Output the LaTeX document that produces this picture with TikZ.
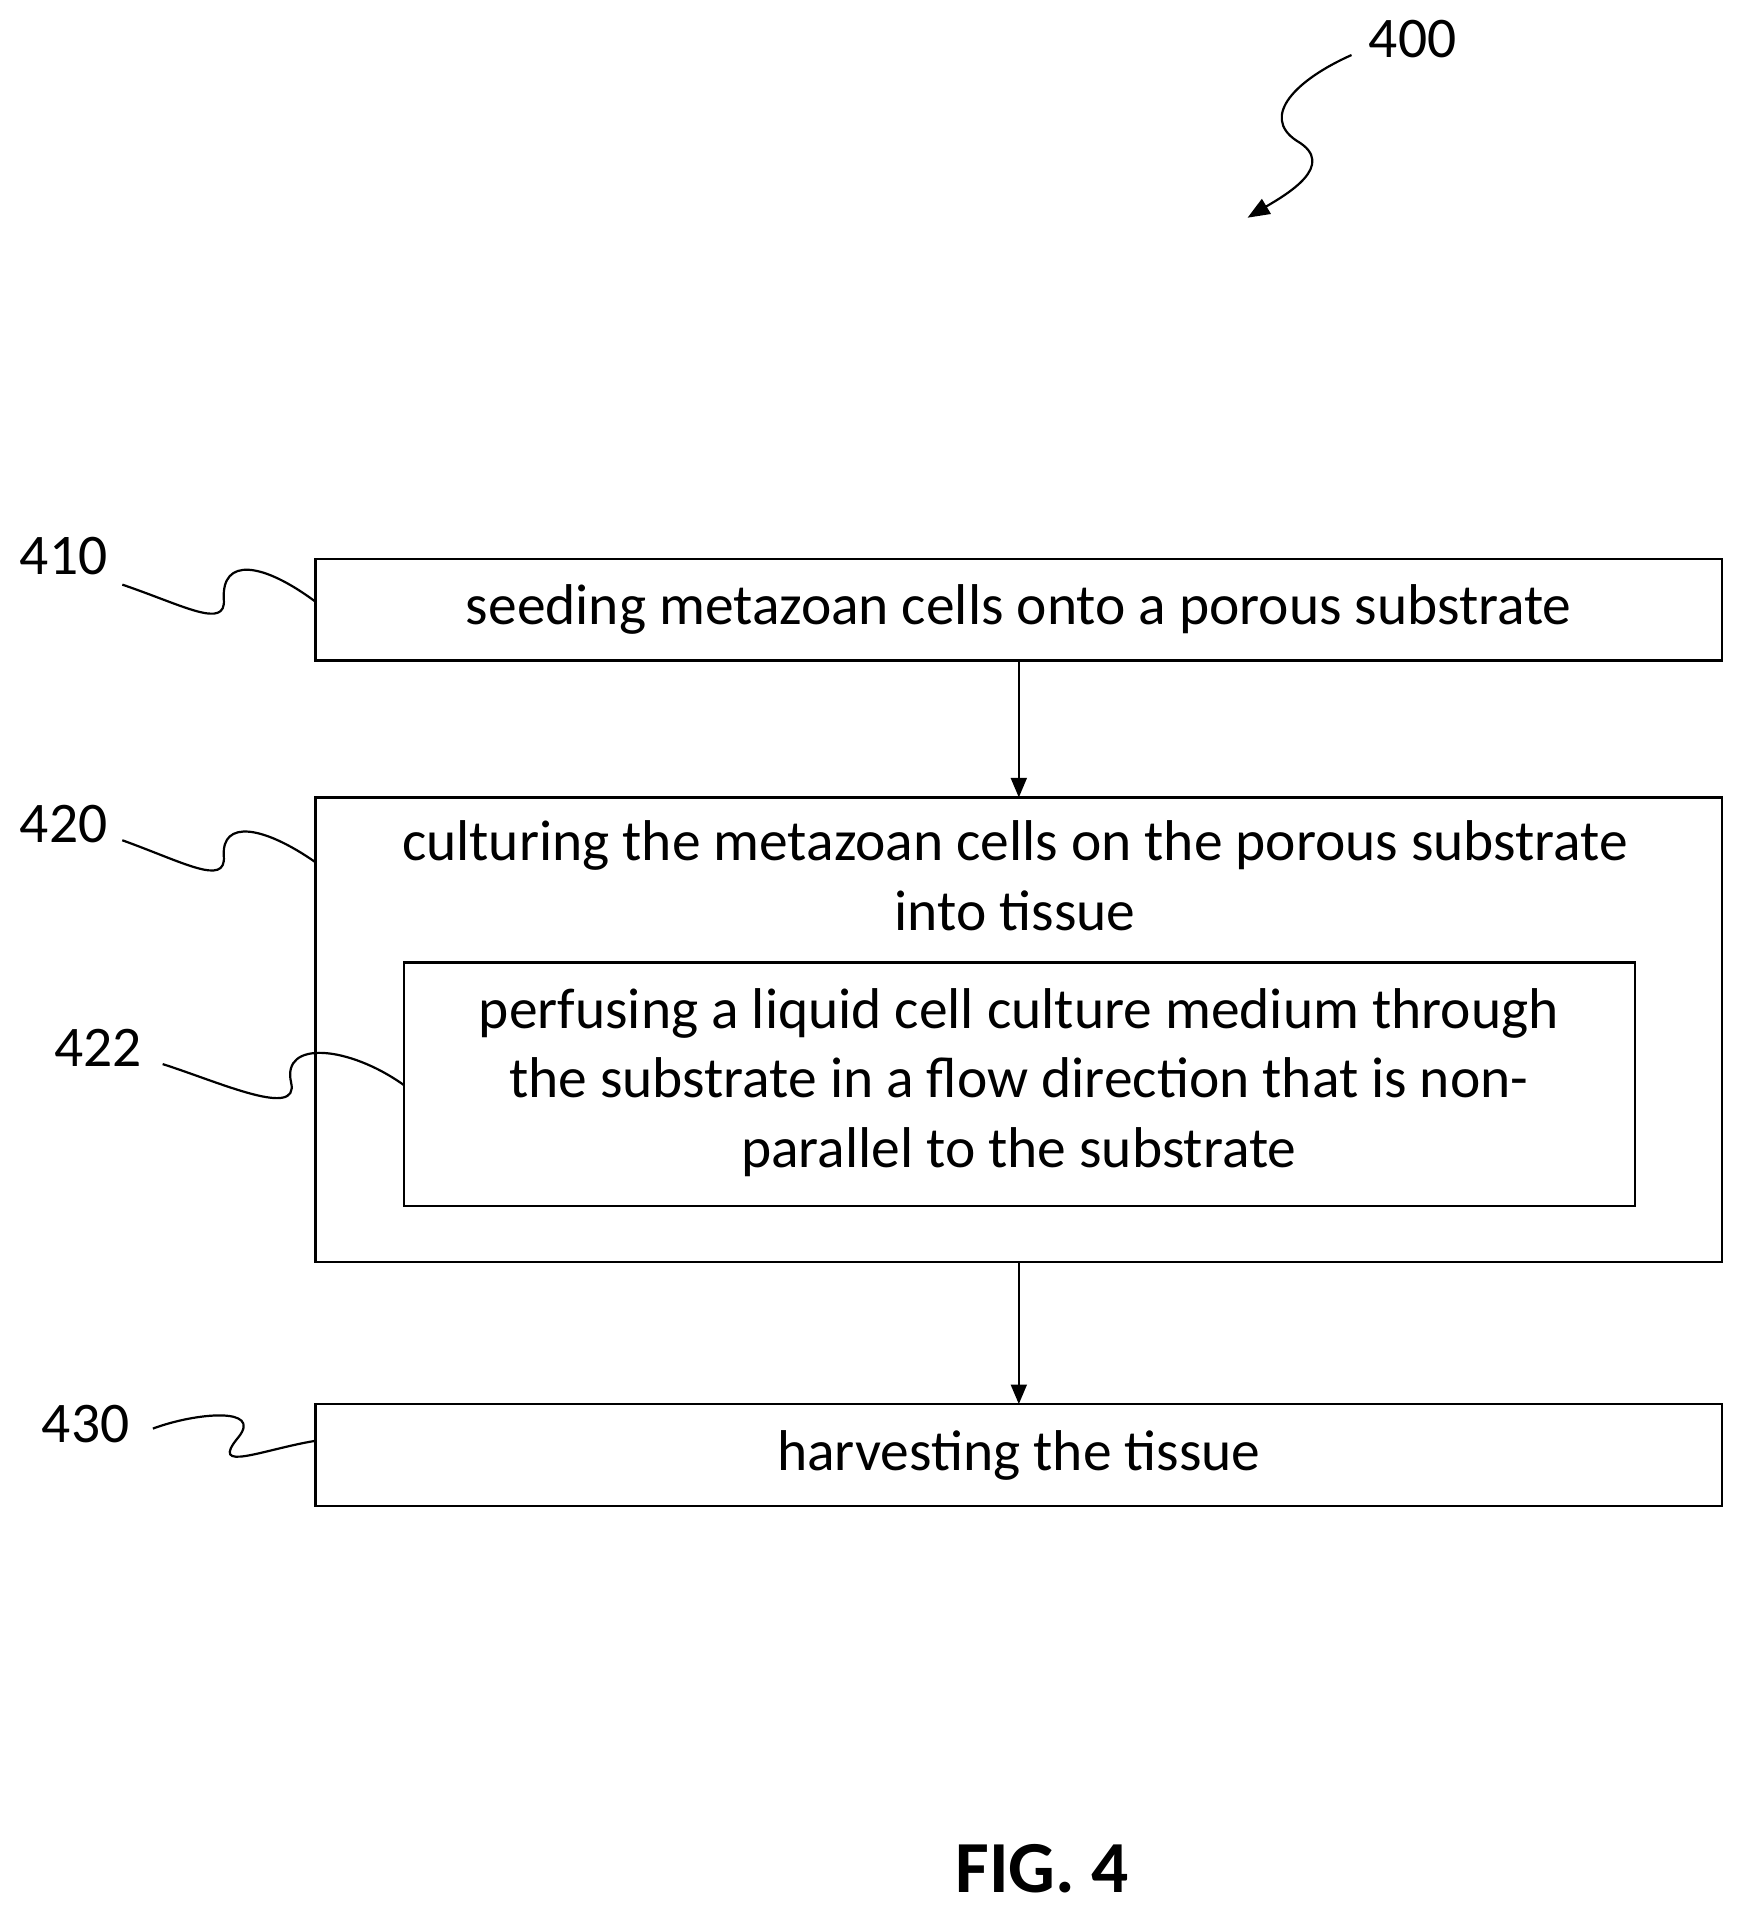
\documentclass[tikz,border=0pt]{standalone}
\usepackage{fontspec}
\setmainfont{Carlito}
\usetikzlibrary{arrows.meta}
\begin{document}
\begin{tikzpicture}[x=1pt,y=-1pt,
  box/.style={draw,line width=1.8pt,inner sep=0pt},
  txt/.style={font=\fontsize{47}{57}\selectfont,align=center},
  lbl/.style={font=\fontsize{47}{50}\selectfont},
  lead/.style={line width=1.8pt},
  arr/.style={line width=1.8pt,-{Triangle[length=16pt,width=13pt]}}]
\useasboundingbox (0,0) rectangle (1420,1560);
\draw[box] (258,457) rectangle (1408,540);
\draw[box] (258,652) rectangle (1408,1032);
\draw[box] (330,787) rectangle (1337,986);
\draw[box] (258,1148) rectangle (1408,1231);
\coordinate (b1t) at (833,540); \coordinate (b2t) at (833,652);
\coordinate (b2b) at (833,1032); \coordinate (b3t) at (833,1148);
\node[txt] (t1) at (833,498) {seeding metazoan cells onto a porous substrate};
\node[txt] (t2) at (830,716) {culturing the metazoan cells on the porous substrate\\into tissue};
\node[txt] (t3) at (833,885) {perfusing a liquid cell culture medium through\\the substrate in a flow direction that is non-\\parallel to the substrate};
\node[txt] (t4) at (833,1190) {harvesting the tissue};
\draw[arr] (b1t) -- (b2t);
\draw[arr] (b2b) -- (b3t);
\node[lbl] (l410) at (52,455) {410};
\node[lbl] (l420) at (52,674) {420};
\node[lbl] (l422) at (80,857) {422};
\node[lbl] (l430) at (70,1164) {430};
\node[lbl] (l400) at (1155,32) {400};
\node[font=\fontsize{60}{64}\selectfont\bfseries] (fig) at (852,1528) {FIG. 4};
\draw[lead] (100,478) .. controls (150,495) and (185,515) .. (183,490) .. controls (181,455) and (215,460) .. (258,492);
\draw[lead] (100,687) .. controls (150,705) and (185,725) .. (183,700) .. controls (181,670) and (215,675) .. (258,705);
\draw[lead] (133,870) .. controls (180,885) and (245,915) .. (238,885) .. controls (230,850) and (285,855) .. (330,887);
\draw[lead] (125,1168) .. controls (160,1155) and (215,1150) .. (195,1175) .. controls (170,1205) and (215,1185) .. (258,1178);
\draw[arr,-{Triangle[length=18pt,width=14pt]}] (1105,45) .. controls (1060,65) and (1030,95) .. (1060,115) .. controls (1095,135) and (1050,160) .. (1020,178);
\end{tikzpicture}
\end{document}
